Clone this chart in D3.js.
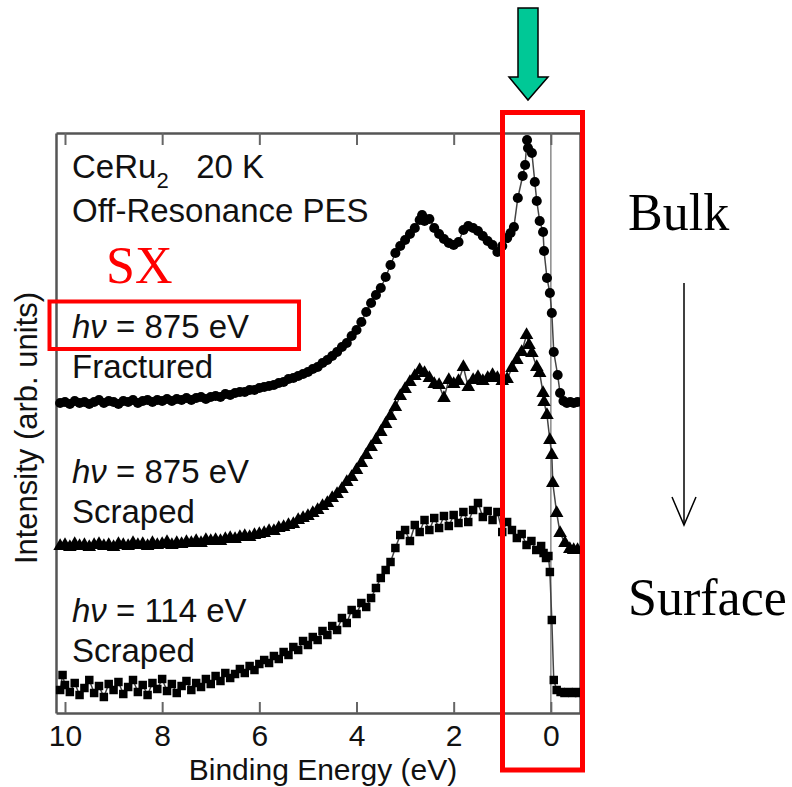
<!DOCTYPE html>
<html><head><meta charset="utf-8">
<script src="https://cdn.jsdelivr.net/npm/d3@7"></script>
<style>body{margin:0;background:#fff} svg{display:block}</style>
</head><body><svg id="c" width="792" height="787"></svg>
<script>
// ---- data: [binding energy (eV), intensity (arb. units)] ----
const fractured875 = [[10.1,31.0],[10.0,31.1],[9.9,30.9],[9.8,31.2],[9.7,31.0],[9.6,31.1],[9.5,30.9],[9.4,31.1],[9.3,31.3],[9.2,31.0],[9.1,31.2],[9.0,31.1],[8.9,30.9],[8.8,31.2],[8.7,31.1],[8.6,31.3],[8.5,31.0],[8.4,31.2],[8.3,31.3],[8.2,31.1],[8.1,31.3],[8.0,31.2],[7.9,31.4],[7.8,31.2],[7.7,31.4],[7.6,31.3],[7.5,31.5],[7.4,31.3],[7.3,31.5],[7.2,31.6],[7.1,31.4],[7.0,31.6],[6.9,31.7],[6.8,31.6],[6.7,31.9],[6.6,31.8],[6.5,32.0],[6.4,32.1],[6.3,32.1],[6.2,32.3],[6.1,32.3],[6.0,32.5],[5.9,32.6],[5.8,32.7],[5.7,32.8],[5.6,33.0],[5.5,33.1],[5.4,33.4],[5.3,33.5],[5.2,33.7],[5.1,33.9],[5.0,34.1],[4.9,34.4],[4.8,34.6],[4.7,35.0],[4.6,35.3],[4.5,35.7],[4.4,36.1],[4.3,36.6],[4.2,37.0],[4.1,37.7],[4.0,38.3],[3.9,39.1],[3.8,40.1],[3.7,41.0],[3.6,41.8],[3.5,42.5],[3.4,43.6],[3.3,44.8],[3.2,46.0],[3.1,46.7],[3.0,47.3],[2.9,47.9],[2.8,48.5],[2.7,49.3],[2.65,49.8],[2.6,49.2],[2.5,49.4],[2.4,48.5],[2.3,47.9],[2.2,47.4],[2.1,47.0],[2.0,46.8],[1.9,47.1],[1.8,48.3],[1.7,48.7],[1.6,48.5],[1.5,48.2],[1.4,47.7],[1.3,47.2],[1.2,46.8],[1.1,46.1],[1.0,46.7],[0.9,47.5],[0.83,48.0],[0.76,48.6],[0.68,51.5],[0.58,53.7],[0.53,54.8],[0.49,57.3],[0.47,56.5],[0.39,56.0],[0.33,53.1],[0.29,51.2],[0.23,49.2],[0.16,48.1],[0.14,46.2],[0.08,43.5],[0.02,42.0],[-0.02,40.0],[-0.06,36.1],[-0.14,33.8],[-0.19,32.0],[-0.26,31.2],[-0.33,31.0],[-0.40,31.1],[-0.47,31.0],[-0.55,31.1]];

const scraped875 = [[10.1,16.7],[10.0,16.8],[9.9,16.6],[9.8,16.9],[9.7,16.7],[9.6,16.8],[9.5,16.6],[9.4,16.8],[9.3,16.9],[9.2,16.7],[9.1,16.8],[9.0,16.6],[8.9,16.9],[8.8,16.8],[8.7,16.7],[8.6,17.0],[8.5,16.8],[8.4,16.9],[8.3,16.7],[8.2,17.0],[8.1,16.8],[8.0,16.9],[7.9,17.1],[7.8,16.8],[7.7,17.0],[7.6,16.9],[7.5,17.1],[7.4,17.0],[7.3,17.2],[7.2,17.0],[7.1,17.3],[7.0,17.2],[6.9,17.3],[6.8,17.2],[6.7,17.4],[6.6,17.5],[6.5,17.4],[6.4,17.6],[6.3,17.7],[6.2,17.6],[6.1,17.8],[6.0,17.9],[5.9,18.0],[5.8,18.2],[5.7,18.2],[5.6,18.5],[5.5,18.6],[5.4,18.8],[5.3,18.9],[5.2,19.3],[5.1,19.5],[5.0,19.7],[4.9,20.0],[4.8,20.3],[4.7,20.7],[4.6,21.0],[4.5,21.5],[4.4,21.9],[4.3,22.4],[4.2,23.1],[4.1,23.6],[4.0,24.3],[3.9,25.0],[3.8,25.8],[3.7,26.6],[3.6,27.3],[3.5,28.1],[3.4,28.9],[3.3,29.7],[3.2,30.6],[3.1,31.7],[3.0,32.4],[2.9,33.1],[2.8,33.7],[2.7,34.3],[2.6,34.0],[2.5,33.5],[2.4,32.9],[2.3,32.8],[2.2,31.5],[2.1,33.3],[2.0,32.9],[1.9,33.2],[1.8,34.6],[1.7,32.6],[1.6,33.3],[1.5,33.6],[1.4,33.2],[1.3,33.5],[1.2,33.8],[1.1,33.5],[1.0,33.2],[0.9,33.4],[0.8,34.5],[0.7,35.3],[0.6,36.1],[0.5,37.8],[0.45,36.8],[0.39,36.0],[0.29,34.6],[0.23,34.0],[0.16,32.0],[0.14,31.1],[0.08,29.8],[0.02,27.3],[-0.02,25.8],[-0.04,23.0],[-0.12,20.0],[-0.19,18.0],[-0.29,17.0],[-0.39,16.4],[-0.47,16.3],[-0.55,16.3]];

const scraped114 = [[10.1,2.3],[10.05,3.8],[10.0,2.8],[9.9,2.1],[9.8,3.0],[9.7,1.8],[9.6,2.5],[9.5,3.3],[9.4,2.0],[9.3,2.7],[9.2,1.6],[9.1,2.9],[9.0,2.3],[8.9,3.1],[8.8,1.9],[8.7,2.6],[8.6,3.3],[8.5,2.1],[8.4,2.8],[8.3,1.8],[8.2,3.0],[8.1,2.4],[8.0,3.4],[7.9,2.2],[7.8,2.9],[7.7,2.0],[7.6,2.7],[7.5,3.2],[7.4,2.3],[7.3,3.0],[7.2,2.6],[7.1,3.4],[7.0,2.9],[6.9,3.7],[6.8,3.2],[6.7,4.0],[6.6,3.5],[6.5,3.9],[6.4,4.4],[6.3,4.0],[6.2,4.7],[6.1,4.3],[6.0,4.9],[5.9,5.3],[5.8,5.0],[5.7,5.7],[5.6,5.4],[5.5,6.1],[5.4,5.8],[5.3,6.6],[5.2,6.3],[5.1,7.2],[5.0,6.8],[4.9,7.6],[4.8,7.3],[4.7,8.2],[4.6,7.8],[4.5,8.7],[4.4,8.3],[4.3,9.5],[4.2,9.0],[4.1,10.3],[4.0,9.9],[3.9,11.0],[3.8,10.6],[3.7,11.5],[3.6,12.5],[3.5,13.5],[3.4,14.3],[3.3,15.1],[3.2,16.5],[3.1,17.8],[3.0,18.3],[2.9,17.2],[2.8,18.8],[2.7,18.1],[2.6,19.3],[2.5,18.3],[2.4,19.5],[2.3,18.5],[2.2,19.7],[2.1,18.7],[2.0,19.8],[1.9,19.0],[1.8,20.1],[1.7,19.1],[1.6,20.3],[1.5,21.0],[1.4,19.6],[1.3,20.2],[1.2,19.3],[1.1,20.1],[1.0,18.1],[0.9,19.1],[0.8,18.3],[0.7,17.5],[0.6,17.9],[0.5,16.8],[0.4,17.2],[0.3,16.3],[0.2,16.7],[0.15,16.0],[0.1,15.5],[0.05,15.7],[0.02,14.1],[-0.02,9.3],[-0.06,3.3],[-0.12,2.3],[-0.2,2.1],[-0.28,2.0],[-0.36,2.1],[-0.44,2.0],[-0.52,2.1],[-0.58,2.0]];

const xTicks = [10, 8, 6, 4, 2, 0];
const xTitle = "Binding Energy (eV)";
const yTitle = "Intensity (arb. units)";

// ---- layout ----
const svg = d3.select("#c");
const L = 56, R = 580, T = 133, B = 713;
const x = d3.scaleLinear().domain([10.185, -0.6]).range([L, R]);
const y = d3.scaleLinear().domain([0, 58]).range([B, T]);
const FONT = "'Liberation Sans', Arial, Helvetica, sans-serif";
const SERIF = "'Liberation Serif', 'Times New Roman', Times, serif";

// Fermi level line
svg.append("line").attr("x1", x(0)).attr("x2", x(0)).attr("y1", T).attr("y2", B)
  .attr("stroke", "#8a8a8a").attr("stroke-width", 1.5);

// axes
const gB = svg.append("g").attr("transform", `translate(0,${B})`)
  .call(d3.axisBottom(x).tickValues(xTicks).tickFormat(d3.format("d")).tickSizeInner(-11).tickSizeOuter(0).tickPadding(12));
const gT = svg.append("g").attr("transform", `translate(0,${T})`)
  .call(d3.axisTop(x).tickValues(xTicks).tickFormat("").tickSizeInner(-12).tickSizeOuter(0));
const gL = svg.append("g").attr("transform", `translate(${L},0)`)
  .call(d3.axisLeft(y).tickValues([]).tickSizeOuter(0));
const gR = svg.append("g").attr("transform", `translate(${R},0)`)
  .call(d3.axisRight(y).tickValues([]).tickSizeOuter(0));
[gB, gT, gL, gR].forEach(g => {
  g.select(".domain").attr("stroke", "#555").attr("stroke-width", 2.5);
  g.selectAll(".tick line").attr("stroke", "#666").attr("stroke-width", 2);
});
gB.selectAll(".tick text").attr("font-family", FONT).attr("font-size", 30).attr("fill", "#111");

svg.append("text").attr("x", 323).attr("y", 780).attr("text-anchor", "middle")
  .attr("font-family", FONT).attr("font-size", 30).attr("fill", "#111").text(xTitle);
svg.append("text").attr("transform", "translate(37,428) rotate(-90)").attr("text-anchor", "middle")
  .attr("font-family", FONT).attr("font-size", 31).attr("fill", "#111").text(yTitle);

// series
const line = d3.line().x(d => x(d[0])).y(d => y(d[1]));
const series = [
  {data: fractured875, sym: d3.symbolCircle, size: 80},
  {data: scraped875, sym: d3.symbolTriangle, size: 80},
  {data: scraped114, sym: d3.symbolSquare, size: 72}
];
series.forEach(s => {
  svg.append("path").attr("d", line(s.data)).attr("fill", "none")
    .attr("stroke", "#444").attr("stroke-width", 1.5);
  svg.append("g").selectAll("path").data(s.data).join("path")
    .attr("transform", d => `translate(${x(d[0])},${y(d[1])})`)
    .attr("d", d3.symbol().type(s.sym).size(s.size)).attr("fill", "#000");
});

// labels in plot
const lab = (tx, ty, parts) => {
  const t = svg.append("text").attr("x", tx).attr("y", ty).attr("font-family", FONT)
    .attr("font-size", 33).attr("fill", "#111");
  parts.forEach(p => {
    const ts = t.append("tspan").text(p.t);
    if (p.i) ts.attr("font-style", "italic");
    if (p.sub) ts.attr("font-size", 22).attr("dy", 10);
    if (p.up) ts.attr("dy", -10);
  });
};
lab(72, 178, [{t: "CeRu"}, {t: "2", sub: true}, {t: "\u00a0\u00a0 20 K", up: true}]);
lab(72, 222, [{t: "Off-Resonance PES"}]);
lab(72, 338, [{t: "h\u03bd", i: true}, {t: " = 875 eV"}]);
lab(72, 378, [{t: "Fractured"}]);
lab(72, 483, [{t: "h\u03bd", i: true}, {t: " = 875 eV"}]);
lab(72, 523, [{t: "Scraped"}]);
lab(72, 622, [{t: "h\u03bd", i: true}, {t: " = 114 eV"}]);
lab(72, 662, [{t: "Scraped"}]);

// red annotations
svg.append("text").attr("x", 106).attr("y", 283).attr("font-family", SERIF)
  .attr("font-size", 52).attr("fill", "#ff0000").text("SX");
svg.append("rect").attr("x", 49.5).attr("y", 301.5).attr("width", 249.5).attr("height", 47.5)
  .attr("fill", "none").attr("stroke", "#ff0000").attr("stroke-width", 4);
svg.append("rect").attr("x", 502.5).attr("y", 112.5).attr("width", 80).attr("height", 657.5)
  .attr("fill", "none").attr("stroke", "#ff0000").attr("stroke-width", 5);

// green arrow
svg.append("path").attr("d", "M518,8 L538,8 L538,77 L548,77 L528,100 L509,77 L518,77 Z")
  .attr("fill", "#00c896").attr("stroke", "#000").attr("stroke-width", 1.5);

// Bulk -> Surface
svg.append("text").attr("x", 628).attr("y", 230).attr("font-family", SERIF)
  .attr("font-size", 52).attr("fill", "#000").text("Bulk");
svg.append("text").attr("x", 628).attr("y", 615).attr("font-family", SERIF)
  .attr("font-size", 52).attr("fill", "#000").text("Surface");
svg.append("line").attr("x1", 684).attr("x2", 684).attr("y1", 283).attr("y2", 525)
  .attr("stroke", "#000").attr("stroke-width", 1.5);
svg.append("path").attr("d", "M672,497 L684,525 L696,497").attr("fill", "none")
  .attr("stroke", "#000").attr("stroke-width", 1.5);
</script></body></html>
